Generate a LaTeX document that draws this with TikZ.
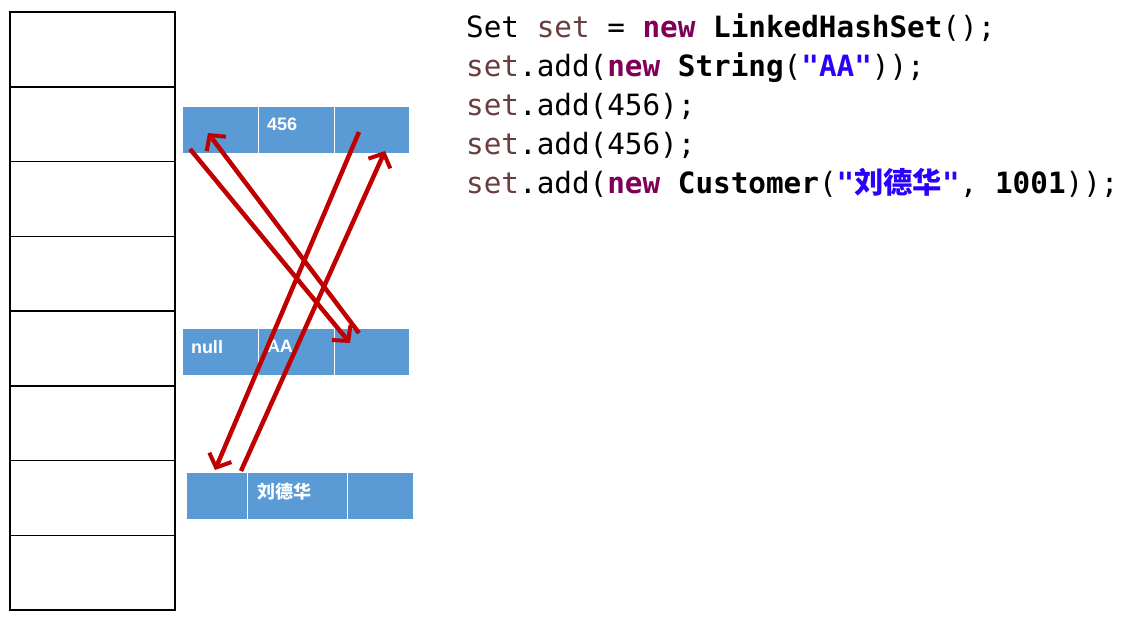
\documentclass[tikz,border=0pt]{standalone}
\usepackage{fontspec}
\setmainfont{Liberation Sans}
\setmonofont{DejaVu Sans Mono}
\newfontfamily\cjk{Noto Sans CJK SC}
\usetikzlibrary{arrows.meta}
\definecolor{cellblue}{HTML}{5B9BD5}
\definecolor{linkred}{HTML}{C00000}
\definecolor{varbrown}{HTML}{6A3E3E}
\definecolor{kwpurple}{HTML}{7F0055}
\definecolor{strblue}{HTML}{2A00FF}
\newcommand{\kw}[1]{\textcolor{kwpurple}{\textbf{#1}}}
\newcommand{\vr}[1]{\textcolor{varbrown}{#1}}
\newcommand{\st}[1]{\textcolor{strblue}{\textbf{#1}}}
\tikzset{
  slot/.style={draw=black, line width=1.5pt, minimum width=165pt, minimum height=74.75pt, inner sep=0pt},
  cell/.style={fill=cellblue, draw=white, line width=1pt, minimum height=47pt, inner sep=0pt,
    text=white, font=\bfseries\fontsize{18}{20}\selectfont},
  link/.style={draw=linkred, line width=4.5pt, -{Straight Barb[length=11pt,width=24pt,line width=4pt]}},
  code/.style={anchor=base west, inner sep=0pt, font=\ttfamily\fontsize{29.3}{32}\selectfont}
}
\begin{document}
\begin{tikzpicture}[x=1pt,y=-1pt]
\useasboundingbox (0,0) rectangle (1125,621);
% hash table
\foreach \i in {0,...,7}
  \node[slot] (slot\i) at (92.5,{12+74.75*\i+37.375}) {};
% first entry
\node[cell, minimum width=76pt] (a1) at (220,129.5) {};
\node[cell, minimum width=76pt, text width=58pt, align=left] (a2) at (296,129.5) {\raisebox{10pt}{456}};
\node[cell, minimum width=75pt] (a3) at (371.5,129.5) {};
% second entry
\node[cell, minimum width=76pt, text width=58pt, align=left] (b1) at (220,351.5) {\raisebox{10pt}{null}};
\node[cell, minimum width=76pt, text width=58pt, align=left] (b2) at (296,351.5) {\raisebox{10pt}{AA}};
\node[cell, minimum width=75pt] (b3) at (371.5,351.5) {};
% third entry
\node[cell, minimum width=61pt] (c1) at (216.5,495.5) {};
\node[cell, minimum width=101pt, text width=80pt, align=left] (c2) at (297.5,495.5) {\raisebox{10pt}{\cjk\bfseries 刘德华}};
\node[cell, minimum width=66pt] (c3) at (380.5,495.5) {};
% links
\coordinate (a1s) at (190,149);  \coordinate (a1t) at (208,133);
\coordinate (a3s) at (359,132);  \coordinate (a3t) at (385,151);
\coordinate (b3s) at (359,333);  \coordinate (b3t) at (350,343);
\coordinate (c1s) at (241,471);  \coordinate (c1t) at (215,470);
\draw[link] (a1s) -- (b3t);
\draw[link] (b3s) -- (a1t);
\draw[link] (a3s) -- (c1t);
\draw[link] (c1s) -- (a3t);
% code
\node[code] (l1) at (466,37) {Set \vr{set} = \kw{new} \textbf{LinkedHashSet}();};
\node[code] (l2) at (466,76) {\vr{set}.add(\kw{new} \textbf{String}(\st{"AA"}));};
\node[code] (l3) at (466,115) {\vr{set}.add(456);};
\node[code] (l4) at (466,154) {\vr{set}.add(456);};
\node[code] (l5) at (466,193) {\vr{set}.add(\kw{new} \textbf{Customer}(\st{"{\cjk 刘德华}"}, \textbf{1001}));};
\end{tikzpicture}
\end{document}
